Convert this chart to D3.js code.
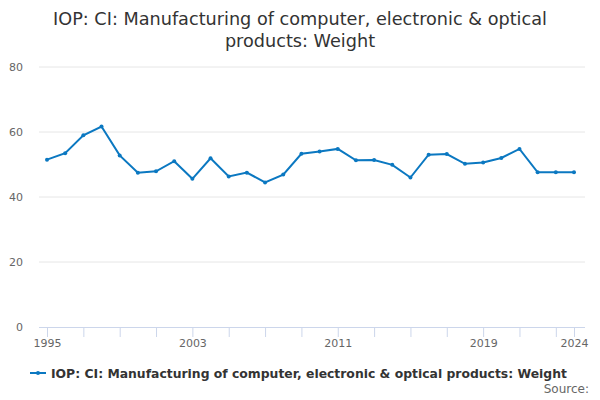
<!doctype html>
<html>
<head>
<meta charset="utf-8">
<title>IOP weight</title>
<script src="https://d3js.org/d3.v7.min.js"></script>
<style>
  body { margin: 0; background: #fff; }
  svg { font-family: "DejaVu Sans", sans-serif; }
</style>
</head>
<body>
<svg id="chart" width="600" height="400"></svg>
<script>
var years = d3.range(1995, 2025);
var weights = [51.5, 53.5, 59.0, 61.7, 52.8, 47.5, 47.9, 51.0, 45.6, 51.9,
               46.3, 47.5, 44.5, 46.9, 53.3, 54.0, 54.8, 51.3, 51.4, 49.9,
               46.0, 53.0, 53.2, 50.2, 50.6, 52.0, 54.8, 47.6, 47.6, 47.6];
var yTicks = [0, 20, 40, 60, 80];
var xTicks = d3.range(1995, 2024, 2).concat([2024]);
var xLabels = [1995, 2003, 2011, 2019, 2024];
var seriesName = "IOP: CI: Manufacturing of computer, electronic & optical products: Weight";

var svg = d3.select("#chart");
var lineColor = "#0b78c1";

var x = d3.scaleLinear().domain([1995, 2024]).range([47, 574]);
var y = d3.scaleLinear().domain([0, 80]).range([327, 67]);

// shrink/grow font so a text spans the given width
function fitWidth(sel, base, target) {
  var w = sel.node().getComputedTextLength();
  sel.style("font-size", (base * target / w).toFixed(2) + "px");
}

// title
var title = svg.append("text")
  .attr("text-anchor", "middle")
  .attr("fill", "#333")
  .style("font-size", "18px");
var t1 = title.append("tspan").attr("x", 300).attr("y", 25)
  .text("IOP: CI: Manufacturing of computer, electronic & optical");
title.append("tspan").attr("x", 300).attr("y", 47)
  .text("products: Weight");
var tw = t1.node().getComputedTextLength();
title.style("font-size", (18 * 494 / tw).toFixed(2) + "px");

// y grid + labels
svg.append("g").selectAll("line")
  .data(yTicks.filter(d => d > 0))
  .enter().append("line")
  .attr("x1", 39).attr("x2", 585)
  .attr("y1", d => y(d)).attr("y2", d => y(d))
  .attr("stroke", "#e6e6e6");

svg.append("g").selectAll("text")
  .data(yTicks)
  .enter().append("text")
  .attr("x", 23).attr("y", d => y(d) + 4)
  .attr("text-anchor", "end")
  .attr("fill", "#666")
  .style("font-size", "11px")
  .text(d => d);

// x axis
var xAxis = d3.axisBottom(x)
  .tickValues(xTicks)
  .tickSize(10)
  .tickFormat(d => xLabels.indexOf(d) >= 0 ? d : "");

var gx = svg.append("g")
  .attr("transform", "translate(0," + y(0) + ")")
  .call(xAxis);
gx.select(".domain").remove();
gx.selectAll(".tick line").attr("stroke", "#ccd6eb");
gx.selectAll(".tick text")
  .attr("fill", "#666")
  .attr("y", 12)
  .style("font-size", "11px")
  .style("font-family", "DejaVu Sans, sans-serif");
gx.append("line")
  .attr("x1", 39).attr("x2", 585)
  .attr("y1", 0.5).attr("y2", 0.5)
  .attr("stroke", "#ccd6eb");

// line
var line = d3.line()
  .x((d, i) => x(years[i]))
  .y(d => y(d));

svg.append("path")
  .datum(weights)
  .attr("d", line)
  .attr("fill", "none")
  .attr("stroke", lineColor)
  .attr("stroke-width", 2);

svg.append("g").selectAll("circle")
  .data(weights)
  .enter().append("circle")
  .attr("cx", (d, i) => x(years[i]))
  .attr("cy", d => y(d))
  .attr("r", 2)
  .attr("fill", lineColor);

// legend
var lg = svg.append("g").attr("transform", "translate(0,373)");
lg.append("line")
  .attr("x1", 30).attr("x2", 46)
  .attr("stroke", lineColor).attr("stroke-width", 2);
lg.append("circle").attr("cx", 38).attr("r", 2).attr("fill", lineColor);
var lt = lg.append("text")
  .attr("x", 51).attr("y", 4.5)
  .attr("fill", "#333")
  .style("font-size", "13px")
  .style("font-weight", "bold")
  .text(seriesName);
fitWidth(lt, 13, 516);

svg.append("text")
  .attr("x", 589).attr("y", 393)
  .attr("text-anchor", "end")
  .attr("fill", "#666")
  .style("font-size", "12px")
  .text("Source:");
</script>
</body>
</html>
